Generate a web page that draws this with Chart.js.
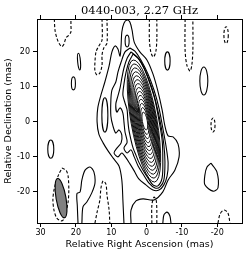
<!DOCTYPE html>
<html>
<head>
<meta charset="utf-8">
<style>
  html, body { margin: 0; padding: 0; background: #fff; }
  #wrap { width: 250px; height: 255px; }
</style>
</head>
<body>
<div id="wrap"><canvas id="c" width="250" height="255"></canvas></div>
<script src="https://cdn.jsdelivr.net/npm/chart.js"></script>
<script>
const plotTitle = '0440-003, 2.27 GHz';
const xTicks = [30, 20, 10, 0, -10, -20];
const yTicks = [20, 10, 0, -10, -20];

// contour lines, [RA offset, Dec offset] in mas
// positive (solid) levels around the jet
const jetLevel1 = [[6.4,-29.0],[6.7,-22.4],[7.0,-16.7],[7.8,-12.7],[9.5,-10.4],[10.9,-8.4],[12.3,-6.1],[13.5,-3.6],[14.0,-0.1],[13.8,3.9],[12.9,7.6],[11.8,11.3],[10.6,15.9],[9.8,19.9],[8.9,21.6],[8.1,20.7],[7.5,18.7],[7.2,21.9],[7.0,25.6],[6.4,28.1],[5.5,29.0],[4.7,28.4],[4.1,26.1],[3.5,22.7],[1.9,19.9],[-0.1,17.6],[-1.8,13.6],[-3.2,8.7],[-4.4,3.3],[-5.2,-1.3],[-6.1,-4.1],[-7.5,-4.4],[-8.9,-6.4],[-9.2,-10.1],[-8.0,-13.9],[-6.1,-16.7],[-4.6,-20.1],[-2.1,-22.4],[1.0,-22.1],[3.0,-22.7],[4.4,-25.3],[4.4,-29.0]];
const jetLevel2 = [[4.7,21.0],[6.1,19.9],[7.2,17.0],[8.1,14.1],[8.7,11.3],[9.8,9.0],[10.1,6.1],[10.1,1.6],[9.5,-1.3],[8.7,-3.3],[7.8,-2.4],[7.0,-3.9],[7.2,-6.1],[8.4,-7.6],[9.2,-9.0],[8.1,-10.1],[7.0,-9.0],[5.8,-10.4],[4.7,-12.1],[3.5,-14.1],[2.2,-16.4],[0.2,-18.1],[-1.8,-19.6],[-3.5,-19.6],[-4.9,-18.1],[-5.8,-15.6],[-6.1,-11.9],[-5.5,-7.0],[-4.6,-1.9],[-3.5,3.9],[-2.1,9.0],[-0.4,13.6],[1.6,17.6],[3.3,20.1],[4.7,21.0]];
const jetLevel3 = [[4.4,19.9],[5.5,18.1],[6.4,15.3],[7.0,12.4],[7.5,9.6],[8.1,7.3],[8.7,5.0],[8.4,2.7],[7.5,3.9],[6.7,2.4],[6.4,-0.1],[6.1,-3.0],[5.5,-5.9],[6.4,-7.6],[5.5,-9.0],[4.4,-8.1],[3.5,-10.1],[2.4,-12.7],[1.0,-15.0],[-0.7,-17.6],[-2.4,-19.0],[-3.8,-18.7],[-4.9,-16.7],[-5.2,-11.6],[-4.9,-6.7],[-4.1,-1.3],[-2.9,4.4],[-1.5,9.6],[0.2,14.1],[2.2,17.9],[4.4,19.9]];
const jetLevel4 = [[3.8,19.3],[5.0,17.0],[5.8,14.1],[6.4,10.7],[6.7,7.6],[6.1,5.3],[5.5,3.3],[5.3,0.4],[5.0,-2.4],[4.4,-5.3],[3.8,-7.6],[3.0,-9.6],[2.2,-11.6],[1.0,-13.9],[-0.4,-16.1],[-1.8,-18.1],[-3.2,-18.4],[-4.4,-16.1],[-4.6,-11.0],[-4.4,-5.3],[-3.5,0.4],[-2.4,6.1],[-1.0,10.7],[0.7,15.3],[2.4,18.1],[3.8,19.3]];
const posRight = [[-18.2,-11.9],[-19.9,-14.4],[-20.2,-19.0],[-18.8,-19.9],[-16.5,-18.1],[-16.5,-15.3],[-17.1,-13.0],[-18.2,-11.9]];
const posBottomLeft = [[19.4,-29.0],[19.6,-24.0],[19.7,-20.6],[18.8,-20.1],[18.3,-16.7],[17.4,-13.9],[16.0,-13.0],[14.9,-14.4],[14.6,-17.6],[15.5,-20.4],[16.9,-23.0],[18.0,-24.4],[18.3,-29.0]];
const posBottomRight = [[-4.6,-29.0],[-4.9,-26.7],[-5.8,-25.9],[-6.6,-27.0],[-6.9,-29.0]];

// negative (dashed) levels
const negTop1 = [[26.1,29.3],[25.9,26.1],[25.4,23.9],[24.8,22.4],[24.0,21.4],[23.4,22.1],[22.8,23.9],[22.0,24.7],[21.4,25.6],[21.4,27.6],[21.4,29.3]];
const negTop2 = [[12.6,29.3],[12.6,23.3],[13.5,21.6],[14.3,19.9],[14.6,17.0],[14.6,14.4],[14.0,13.3],[13.2,13.9],[12.6,16.1],[12.6,19.0],[12.1,21.0],[11.2,22.4],[11.2,29.3]];
const negTop3 = [[-0.8,29.3],[-0.8,23.3],[-1.2,19.9],[-1.9,18.4],[-2.6,19.9],[-2.9,23.3],[-2.9,29.3]];
const negTop4 = [[-10.9,29.3],[-10.9,20.4],[-11.4,16.1],[-12.3,14.4],[-12.8,16.1],[-13.1,20.4],[-13.1,29.3]];
const negBeam = [[23.9,-13.3],[22.8,-13.9],[22.2,-15.6],[22.0,-19.6],[22.2,-23.0],[22.8,-25.9],[23.4,-27.9],[24.2,-28.4],[25.4,-27.6],[26.2,-25.3],[26.5,-22.4],[26.2,-19.6],[25.6,-17.3],[24.8,-15.0],[23.9,-13.3]];
const negBottom1 = [[14.6,-29.0],[14.0,-25.9],[13.2,-22.4],[12.9,-19.0],[12.3,-17.0],[11.5,-17.9],[11.2,-21.0],[10.6,-25.3],[10.4,-29.0]];
const negBottom2 = [[-1.5,-29.0],[-1.5,-23.9],[-2.1,-21.6],[-2.7,-22.4],[-2.9,-25.3],[-2.9,-29.0]];
const negBottom3 = [[-20.2,-29.0],[-20.8,-26.4],[-21.9,-25.3],[-23.0,-26.1],[-23.6,-29.0]];

// elliptical contours: [RA, Dec, semi-major, semi-minor, PA deg] in mas
const coreRings = [
  [0.74,0.14,17.71,3.68,10],[0.73,0.14,16.57,3.45,10],[0.71,0.14,15.43,3.23,10],
  [0.69,0.14,14.29,3.00,10],[0.67,0.14,13.14,2.77,10],[0.65,0.14,12.00,2.55,10],
  [0.63,0.14,10.86,2.32,10],[0.61,0.14,9.71,2.09,10],[0.59,0.14,8.57,1.87,10],
  [0.57,0.14,7.43,1.64,10],[0.55,0.14,6.29,1.41,10],[0.53,0.14,5.14,1.19,10],
  [0.51,0.14,3.90,0.95,10],[0.50,0.14,2.60,0.70,10]
];
const posBlobs = [
  [19.1,17.1,2.4,0.4,5],[20.7,10.9,1.86,0.57,0],[-5.9,17.3,2.6,0.76,0],
  [-16.2,11.6,4.0,1.13,0],[27.1,-7.9,2.6,0.85,0],[5.5,23.0,1.7,0.57,0],
  [11.8,1.9,4.9,0.85,0]
];
const negBlobs = [[-22.5,24.7,2.4,0.62,0],[-18.8,-1.0,2.0,0.57,0]];
const beam = [24.2,-21.9,5.7,1.4,10];

const solidLines = [jetLevel1, jetLevel2, jetLevel3, jetLevel4, posRight, posBottomLeft, posBottomRight];
const dashedLines = [negTop1, negTop2, negTop3, negTop4, negBeam, negBottom1, negBottom2, negBottom3];

const toDataset = (pts, dashed) => ({
  data: pts.map(([x, y]) => ({ x, y })),
  showLine: true,
  borderColor: '#000',
  borderWidth: 1.1,
  borderDash: dashed ? [3, 2] : [],
  pointRadius: 0,
  tension: 0.3,
  fill: false
});

const ellipses = {
  id: 'ellipses',
  afterDatasetsDraw(chart) {
    const { ctx, chartArea: a, scales: { x, y } } = chart;
    const kx = Math.abs(x.getPixelForValue(1) - x.getPixelForValue(0));
    const ky = Math.abs(y.getPixelForValue(1) - y.getPixelForValue(0));
    ctx.save();
    ctx.beginPath();
    ctx.rect(a.left, a.top, a.right - a.left, a.bottom - a.top);
    ctx.clip();
    const draw = ([ra, dec, maj, min, pa], dash, width, fill) => {
      ctx.beginPath();
      ctx.ellipse(x.getPixelForValue(ra), y.getPixelForValue(dec), min * kx, maj * ky, -pa * Math.PI / 180, 0, Math.PI * 2);
      if (fill) { ctx.fillStyle = fill; ctx.fill(); }
      ctx.setLineDash(dash);
      ctx.lineWidth = width;
      ctx.strokeStyle = '#000';
      ctx.stroke();
    };
    coreRings.forEach(e => draw(e, [], 0.95));
    posBlobs.forEach(e => draw(e, [], 1.1));
    negBlobs.forEach(e => draw(e, [3, 2], 1.1));
    draw(beam, [], 1.1, '#808080');
    ctx.restore();
  }
};

const tickFont = { family: 'DejaVu Sans', size: 8 };
const gridOpts = { drawOnChartArea: false, drawTicks: true, tickLength: 4, tickColor: '#000', tickWidth: 1 };
const borderOpts = { display: true, color: '#000', width: 1 };
const setTicks = vals => s => { s.ticks = vals.map(v => ({ value: v })); };

new Chart(document.getElementById('c'), {
  type: 'scatter',
  data: {
    datasets: [
      ...solidLines.map(p => toDataset(p, false)),
      ...dashedLines.map(p => toDataset(p, true))
    ]
  },
  plugins: [ellipses],
  options: {
    responsive: false,
    animation: false,
    devicePixelRatio: 1,
    layout: { padding: 0 },
    plugins: { legend: { display: false }, tooltip: { enabled: false }, title: { display: false } },
    scales: {
      x: {
        type: 'linear', position: 'bottom', reverse: true, min: -27, max: 31,
        afterBuildTicks: setTicks(xTicks),
        afterFit: s => { s.height = 32; },
        grid: gridOpts, border: borderOpts,
        ticks: { font: tickFont, color: '#000', padding: 1, maxRotation: 0, callback: v => String(v) },
        title: { display: true, text: 'Relative Right Ascension (mas)', color: '#000',
                 font: { family: 'DejaVu Sans', size: 9.5 }, padding: { top: 0, bottom: 5 } }
      },
      x2: {
        type: 'linear', position: 'top', reverse: true, min: -27, max: 31,
        afterBuildTicks: setTicks(xTicks),
        afterFit: s => { s.height = 19; },
        grid: gridOpts, border: borderOpts,
        ticks: { display: false },
        title: { display: true, text: plotTitle, color: '#000',
                 font: { family: 'DejaVu Serif', size: 11.5 }, padding: { top: 4, bottom: 0 } }
      },
      y: {
        type: 'linear', position: 'left', min: -29, max: 29.3,
        afterBuildTicks: setTicks(yTicks),
        afterFit: s => { s.width = 37; },
        grid: gridOpts, border: borderOpts,
        ticks: { font: tickFont, color: '#000', padding: 3, callback: v => String(v) },
        title: { display: true, text: 'Relative Declination (mas)', color: '#000',
                 font: { family: 'DejaVu Sans', size: 9.5 }, padding: { top: 3, bottom: 0 } }
      },
      y2: {
        type: 'linear', position: 'right', min: -29, max: 29.3,
        afterBuildTicks: setTicks(yTicks),
        afterFit: s => { s.width = 8; },
        grid: gridOpts, border: borderOpts,
        ticks: { display: false }
      }
    }
  }
});
</script>
</body>
</html>
